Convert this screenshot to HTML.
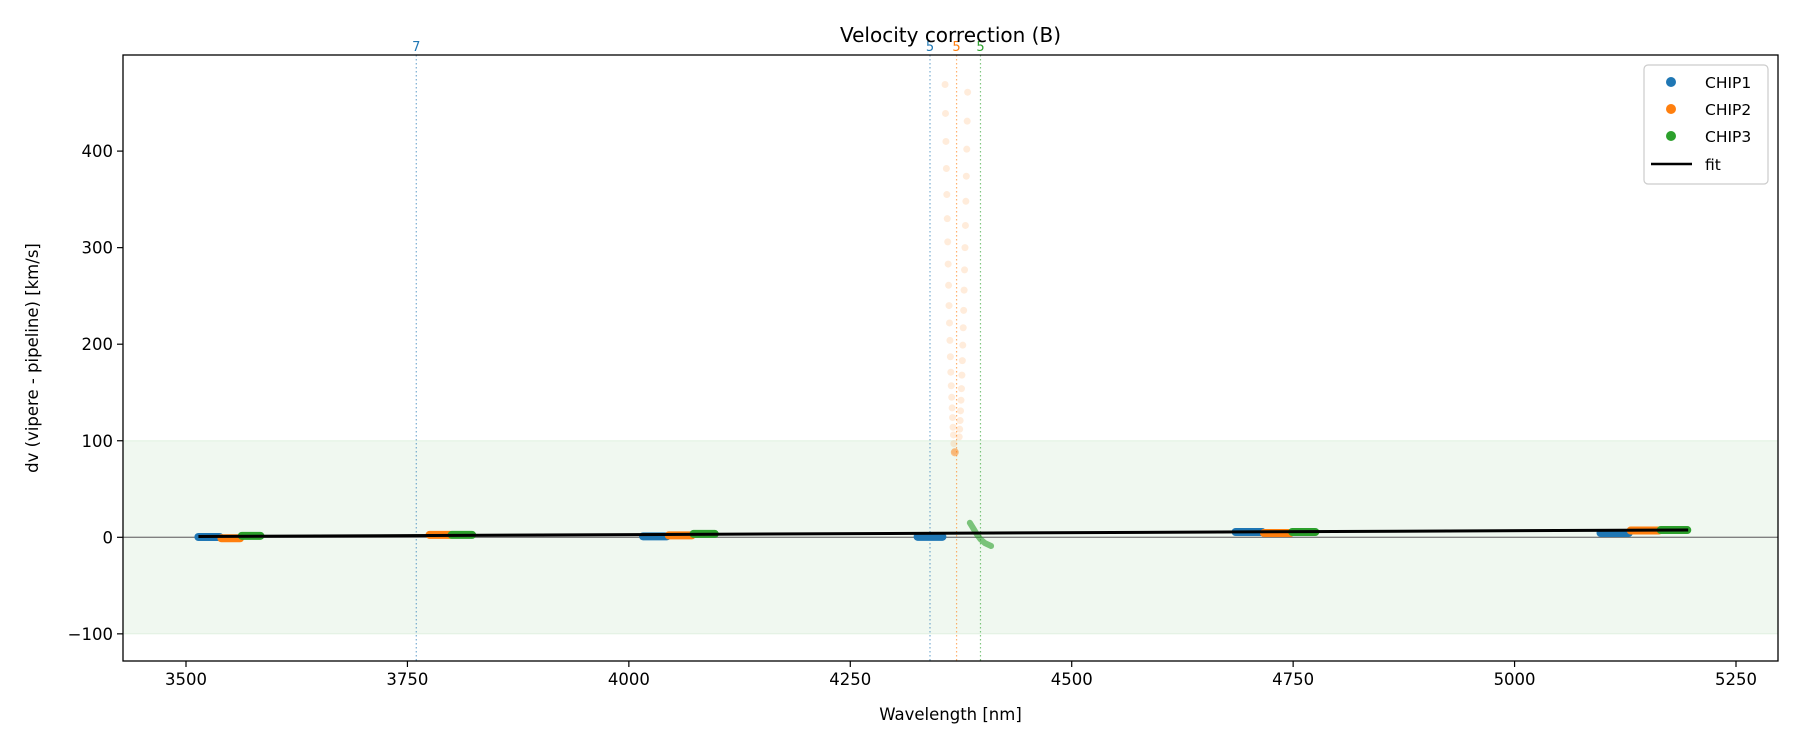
<!DOCTYPE html>
<html><head><meta charset="utf-8"><style>
html,body{margin:0;padding:0;background:#fff;}
svg{display:block;font-family:"DejaVu Sans","Liberation Sans",sans-serif;}
</style></head><body>
<svg id="chart" width="1800" height="750" xmlns="http://www.w3.org/2000/svg">
<g id="bg"></g>
<g id="marks"></g>
<g id="axes"></g>
</svg>
<script>
const xTicks = [3500, 3750, 4000, 4250, 4500, 4750, 5000, 5250];
const yTicks = [-100, 0, 100, 200, 300, 400];
const chipNames = ["CHIP1", "CHIP2", "CHIP3"];
const chipColors = ["#1f77b4", "#ff7f0e", "#2ca02c"];
// cluster segments: [wlStart, wlEnd, dv]
const chip1Clusters = [[3514, 3538, 0.3], [4016, 4043, 1], [4326, 4354, 0.5], [4685, 4715, 5.5], [5097, 5129, 4.5]];
const chip2Clusters = [[3540, 3561, -1], [3775, 3798, 2.5], [4045, 4071, 2], [4717, 4747, 4.5], [5131, 5163, 7]];
const chip3Clusters = [[3563, 3584, 1.5], [3800, 3823, 2.5], [4073, 4097, 3.5], [4749, 4775, 5.5], [5165, 5195, 7.5]];
// outlier scatter (CHIP2)
const outlierWlA = [4357,4357.5,4358,4358.5,4359,4359.5,4360,4360.5,4361,4361.5,4362,4362.5,4363,4363.5,4364,4364.5,4365,4365.5,4366,4366.5,4367,4368];
const outlierDvA = [469,439,410,382,355,330,306,283,261,240,222,204,187,171,157,145,134,124,114,106,97,89];
const outlierWlB = [4382.5,4382,4381.5,4381,4380.5,4380,4379.5,4379,4378.5,4378,4377.5,4377,4376.5,4376,4375.5,4375,4374.5,4374,4373.5,4373];
const outlierDvB = [461,431,402,374,348,323,300,277,256,235,217,199,183,168,154,142,131,121,112,104];
// CHIP3 curved segment
const curveWl = [4385, 4389, 4393, 4397, 4402, 4409];
const curveDv = [15, 9, 3, -2, -6, -9];
// fit line endpoints
const fitWl = [3514, 5196];
const fitDv = [0.8, 7.6];
// vertical markers
const vlineWl = [3760, 4340, 4370, 4397];
const vlineLabels = ["7", "5", "5", "5"];
const vlineChip = [0, 0, 1, 2];

const L=123, R=1778, T=55, B=661;
const X = wl => 186 + (wl - 3500) * (1550 / 1750);
const Y = v => 537.3 - v * 0.9655;
const NS = "http://www.w3.org/2000/svg";
function mk(parent, tag, attrs, text){
  const e = document.createElementNS(NS, tag);
  for (const k in attrs) e.setAttribute(k, attrs[k]);
  if (text !== undefined) e.textContent = text;
  document.getElementById(parent).appendChild(e);
  return e;
}
let band = mk("bg","rect",{x:L,y:Y(100),width:R-L,height:Y(-100)-Y(100),fill:"#2ca02c","fill-opacity":0.07,stroke:"#2ca02c","stroke-opacity":0.1});


let zl = mk("bg","line",{x1:L,x2:R,y1:Y(0),y2:Y(0),stroke:"#808080","stroke-width":1.3});


vlineWl.forEach((w,i)=>{
  const c = chipColors[vlineChip[i]];
  const l = mk("bg","line",{x1:X(w),x2:X(w),y1:T,y2:B,stroke:c,"stroke-width":1.2,"stroke-dasharray":"1.5,2.5","stroke-opacity":0.6});
  
  
  const t = mk("axes","text",{x:X(w),y:T-4,"text-anchor":"middle","font-size":13,fill:c},vlineLabels[i]);
  
  
});
[[outlierWlA,outlierDvA],[outlierWlB,outlierDvB]].forEach(([ws,ds])=>{
  ws.forEach((w,i)=>{
    const c = mk("marks","circle",{cx:X(w),cy:Y(ds[i]),r:3.5,fill:"#ff7f0e","fill-opacity":0.15});
    
    
  });
});
let od = mk("marks","circle",{cx:X(4368),cy:Y(88),r:4,fill:"#ff7f0e","fill-opacity":0.45});


[chip1Clusters, chip2Clusters, chip3Clusters].forEach((cl,ci)=>{
  cl.forEach(s=>{
    const l = mk("marks","line",{x1:X(s[0]),x2:X(s[1]),y1:Y(s[2]),y2:Y(s[2]),stroke:chipColors[ci],"stroke-width":8,"stroke-linecap":"round"});
    
    
  });
});
let cv = mk("marks","polyline",{points:curveWl.map((w,i)=>X(w)+","+Y(curveDv[i])).join(" "),fill:"none",stroke:"#2ca02c","stroke-width":6,"stroke-linecap":"round","stroke-opacity":0.6});


let fl = mk("marks","line",{x1:X(fitWl[0]),x2:X(fitWl[1]),y1:Y(fitDv[0]),y2:Y(fitDv[1]),stroke:"#000","stroke-width":3});


let fr = mk("axes","rect",{x:L,y:T,width:R-L,height:B-T,fill:"none",stroke:"#000","stroke-width":1.3});


xTicks.forEach(t=>{
  mk("axes","line",{x1:X(t),x2:X(t),y1:B,y2:B+6,stroke:"#000","stroke-width":1.2});
  const tx = mk("axes","text",{x:X(t),y:B+24,"text-anchor":"middle","font-size":16.5,fill:"#000"},String(t));
  
  
});
yTicks.forEach(t=>{
  mk("axes","line",{x1:L-6,x2:L,y1:Y(t),y2:Y(t),stroke:"#000","stroke-width":1.2});
  const tx = mk("axes","text",{x:L-10,y:Y(t)+6,"text-anchor":"end","font-size":16.5,fill:"#000"},t<0?"\u2212"+Math.abs(t):String(t));
  
  
});
let xt = mk("axes","text",{x:(L+R)/2,y:720,"text-anchor":"middle","font-size":16.5},"Wavelength [nm]");


let yt = mk("axes","text",{x:0,y:0,"text-anchor":"middle","font-size":16.5,transform:"translate(38,"+((T+B)/2)+") rotate(-90)"},"dv (vipere - pipeline) [km/s]");


let ti = mk("axes","text",{x:(L+R)/2,y:42,"text-anchor":"middle","font-size":20},"Velocity correction (B)");


let lg = mk("axes","rect",{x:1644,y:65,width:124,height:119,rx:4,fill:"#fff","fill-opacity":0.85,stroke:"#ccc","stroke-width":1.2});


const legY = [82, 109, 136, 164];
chipNames.forEach((n,i)=>{
  const c = mk("axes","circle",{cx:1671,cy:legY[i],r:5,fill:chipColors[i]});
  
  
  const t = mk("axes","text",{x:1705,y:legY[i]+6,"font-size":15.5},n);
  
  
});
let ll = mk("axes","line",{x1:1651,x2:1692,y1:legY[3],y2:legY[3],stroke:"#000","stroke-width":2.5});


let lt = mk("axes","text",{x:1705,y:legY[3]+6,"font-size":15.5},"fit");


</script>
</body></html>
